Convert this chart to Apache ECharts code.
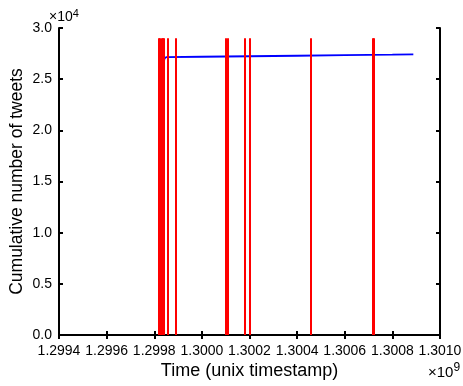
<!DOCTYPE html>
<html><head><meta charset="utf-8">
<script src="https://cdn.jsdelivr.net/npm/echarts@6/dist/echarts.min.js"></script>
<style>html,body{margin:0;padding:0;background:#fff}#c{width:463px;height:386px}</style>
</head><body><div id="c"></div>
<script>
// Blue cumulative line: [unix timestamp, cumulative tweets]
const cumTimes = [1.299840e9, 1.299850e9, 1.300000e9, 1.300200e9, 1.300400e9, 1.300600e9, 1.300800e9, 1.300888e9];
const cumValues = [27000, 27150, 27190, 27240, 27290, 27340, 27400, 27430];
// Red event lines (timestamps) and their height
const eventTimes = [1.299819e9, 1.299824e9, 1.299830e9, 1.299836e9, 1.299840e9, 1.299855e9, 1.299890e9,
  1.300101e9, 1.300108e9, 1.300182e9, 1.300199e9, 1.300458e9, 1.300718e9, 1.300722e9];
const eventTop = 29000;
const xTicks = [1.2994e9, 1.2996e9, 1.2998e9, 1.3000e9, 1.3002e9, 1.3004e9, 1.3006e9, 1.3008e9, 1.3010e9];
const yTicks = [0, 5000, 10000, 15000, 20000, 25000, 30000];

const font = 'Liberation Sans, Arial, sans-serif';
const chart = echarts.init(document.getElementById('c'), null, {renderer: 'canvas'});
const axLine = {show: true, lineStyle: {color: '#000', width: 2}};
const tick = {show: true, inside: true, length: 4, lineStyle: {color: '#000', width: 2}};
chart.setOption({
  animation: false,
  backgroundColor: '#fff',
  grid: {left: 59, right: 23, top: 28, bottom: 51, containLabel: false, outerBoundsMode: 'none'},
  xAxis: [{
    type: 'value', min: 1.2994e9, max: 1.3010e9, interval: 0.0002e9, position: 'bottom',
    axisLine: axLine, axisTick: tick, splitLine: {show: false},
    axisLabel: {color: '#000', fontFamily: font, fontSize: 14, margin: 9, formatter: v => (v / 1e9).toFixed(4)},
    name: 'Time (unix timestamp)', nameLocation: 'middle', nameGap: 27, nameMoveOverlap: false,
    nameTextStyle: {color: '#000', fontFamily: font, fontSize: 18}
  }, {
    type: 'value', min: 1.2994e9, max: 1.3010e9, interval: 0.0002e9, position: 'top',
    axisLine: axLine, axisTick: tick, axisLabel: {show: false}, splitLine: {show: false}
  }],
  yAxis: [{
    type: 'value', min: 0, max: 30000, interval: 5000, position: 'left',
    axisLine: axLine, axisTick: tick, splitLine: {show: false},
    axisLabel: {color: '#000', fontFamily: font, fontSize: 14, margin: 7, padding: [3, 0, 0, 0], formatter: v => (v / 1e4).toFixed(1)},
    name: 'Cumulative number of tweets', nameLocation: 'middle', nameGap: 33, nameMoveOverlap: false,
    nameTextStyle: {color: '#000', fontFamily: font, fontSize: 17.5}
  }, {
    type: 'value', min: 0, max: 30000, interval: 5000, position: 'right',
    axisLine: axLine, axisTick: tick, axisLabel: {show: false}, splitLine: {show: false}
  }],
  graphic: [
    {type: 'text', left: 49, top: 8, style: {text: '×10{s|4}', fontSize: 14, fontFamily: font, fill: '#000',
      rich: {s: {fontSize: 11, fontFamily: font, fill: '#000', verticalAlign: 'top', padding: [0, 0, 8, 0]}}}},
    {type: 'text', left: 428, top: 362, style: {text: '×10{s|9}', fontSize: 15, fontFamily: font, fill: '#000',
      rich: {s: {fontSize: 12, fontFamily: font, fill: '#000', verticalAlign: 'top', padding: [0, 0, 9, 0]}}}}
  ],
  series: [{
    type: 'line', xAxisIndex: 0, yAxisIndex: 0,
    data: cumTimes.map((t, i) => [t, cumValues[i]]),
    showSymbol: false, symbol: 'none',
    lineStyle: {color: '#0000ff', width: 1.8}, z: 2
  }, {
    type: 'scatter', xAxisIndex: 0, yAxisIndex: 0,
    data: [[cumTimes[0], cumValues[0]]], symbol: 'rect', symbolSize: 3,
    itemStyle: {color: '#0000ff'}, z: 2
  }, {
    type: 'line', xAxisIndex: 0, yAxisIndex: 0, data: [],
    markLine: {
      silent: true, symbol: ['none', 'none'], label: {show: false},
      lineStyle: {color: '#ff0000', width: 2, type: 'solid'},
      data: eventTimes.map(t => [{coord: [t, 0]}, {coord: [t, eventTop]}])
    }, z: 3
  }]
});
</script></body></html>
